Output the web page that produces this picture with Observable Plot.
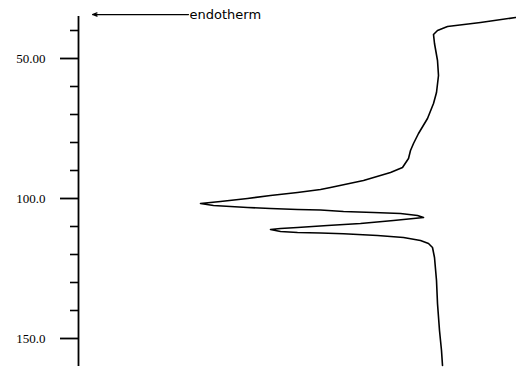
<!DOCTYPE html>
<html>
<head>
<meta charset="utf-8">
<script src="https://cdn.jsdelivr.net/npm/d3@7"></script>
<script src="https://cdn.jsdelivr.net/npm/@observablehq/plot@0.6"></script>
<style>
  html, body { margin: 0; padding: 0; background: #fff; }
  #chart svg { display: block; }
</style>
</head>
<body>
<div id="chart"></div>
<script>
// Temperature (°C) along the trace, in drawing order
const temperature = [35.36, 37.14, 38.57, 40.0, 41.43, 44.64, 50.71, 56.07, 62.14, 66.07, 71.43, 76.79, 80.36, 82.86, 85.71, 88.93, 90.71, 93.57, 96.07, 96.79, 97.86, 98.93, 100.0, 101.07, 101.79, 102.5, 103.21, 103.57, 103.93, 104.1, 104.64, 105.0, 105.36, 106.07, 106.79, 107.14, 107.86, 108.93, 109.64, 110.36, 110.71, 111.07, 111.79, 112.14, 112.3, 112.6, 113.21, 113.93, 115.0, 116.07, 117.5, 121.07, 129.29, 137.5, 147.14, 154.29, 159.64];
// Heat flow (arbitrary units, endotherm negative)
const heatFlow = [3.75, 2.0, 0.35, -0.15, -0.35, -0.3, -0.15, -0.1, -0.2, -0.35, -0.65, -1.1, -1.35, -1.5, -1.6, -1.9, -2.5, -3.85, -5.5, -6.0, -7.15, -8.5, -9.65, -11.0, -12.0, -11.35, -9.65, -8.5, -7.15, -6.0, -4.85, -3.35, -2.0, -1.15, -0.85, -1.35, -2.35, -4.0, -5.65, -7.15, -8.0, -8.5, -8.0, -7.15, -6.0, -4.85, -3.15, -1.85, -1.0, -0.6, -0.4, -0.3, -0.2, -0.15, -0.05, 0.05, 0.1];

const majorTicks = [50, 100, 150];
const majorLabels = ["50.00", "100.0", "150.0"];
const minorTicks = [40, 60, 70, 80, 90, 110, 120, 130, 140];
const arrowLabel = "endotherm";
const arrowFrom = -12.6, arrowTo = -17.4, arrowTemp = 34.3;

const xDomain = [-18.1, 3.8];
const yDomain = [35, 160];

const trace = temperature.map((t, i) => ({t, hf: heatFlow[i]}));

const chart = Plot.plot({
  width: 516,
  height: 368,
  marginLeft: 78,
  marginRight: 0,
  marginTop: 16,
  marginBottom: 2,
  style: {background: "#fff", fontFamily: "'Liberation Serif', serif", fontSize: "13px", color: "#000", overflow: "visible"},
  x: {domain: xDomain, axis: null},
  y: {domain: yDomain, reverse: true, axis: null},
  marks: [
    Plot.ruleX([xDomain[0]], {y1: yDomain[0], y2: yDomain[1], stroke: "#000", strokeWidth: 1.8}),
    Plot.axisY(majorTicks, {
      anchor: "left", tickSize: 18, tickPadding: 15, strokeWidth: 1.8,
      tickFormat: (d) => majorLabels[majorTicks.indexOf(d)],
      fontSize: 13, fill: "#000", label: null
    }),
    Plot.axisY(minorTicks, {anchor: "left", tickSize: 8, strokeWidth: 1.6, tickFormat: () => "", label: null}),
    Plot.line(trace, {x: "hf", y: "t", stroke: "#000", strokeWidth: 1.6, curve: "linear"}),
    Plot.arrow([{x1: arrowFrom, x2: arrowTo, y: arrowTemp}], {x1: "x1", x2: "x2", y1: "y", y2: "y", stroke: "#000", strokeWidth: 1.2, headLength: 6, headAngle: 40}),
    Plot.text([arrowLabel], {x: arrowFrom, y: arrowTemp, text: d => d, textAnchor: "start", dx: 1, fontSize: 13, fontFamily: "'DejaVu Sans', sans-serif", fill: "#000"})
  ]
});
document.getElementById("chart").append(chart);
</script>
</body>
</html>
